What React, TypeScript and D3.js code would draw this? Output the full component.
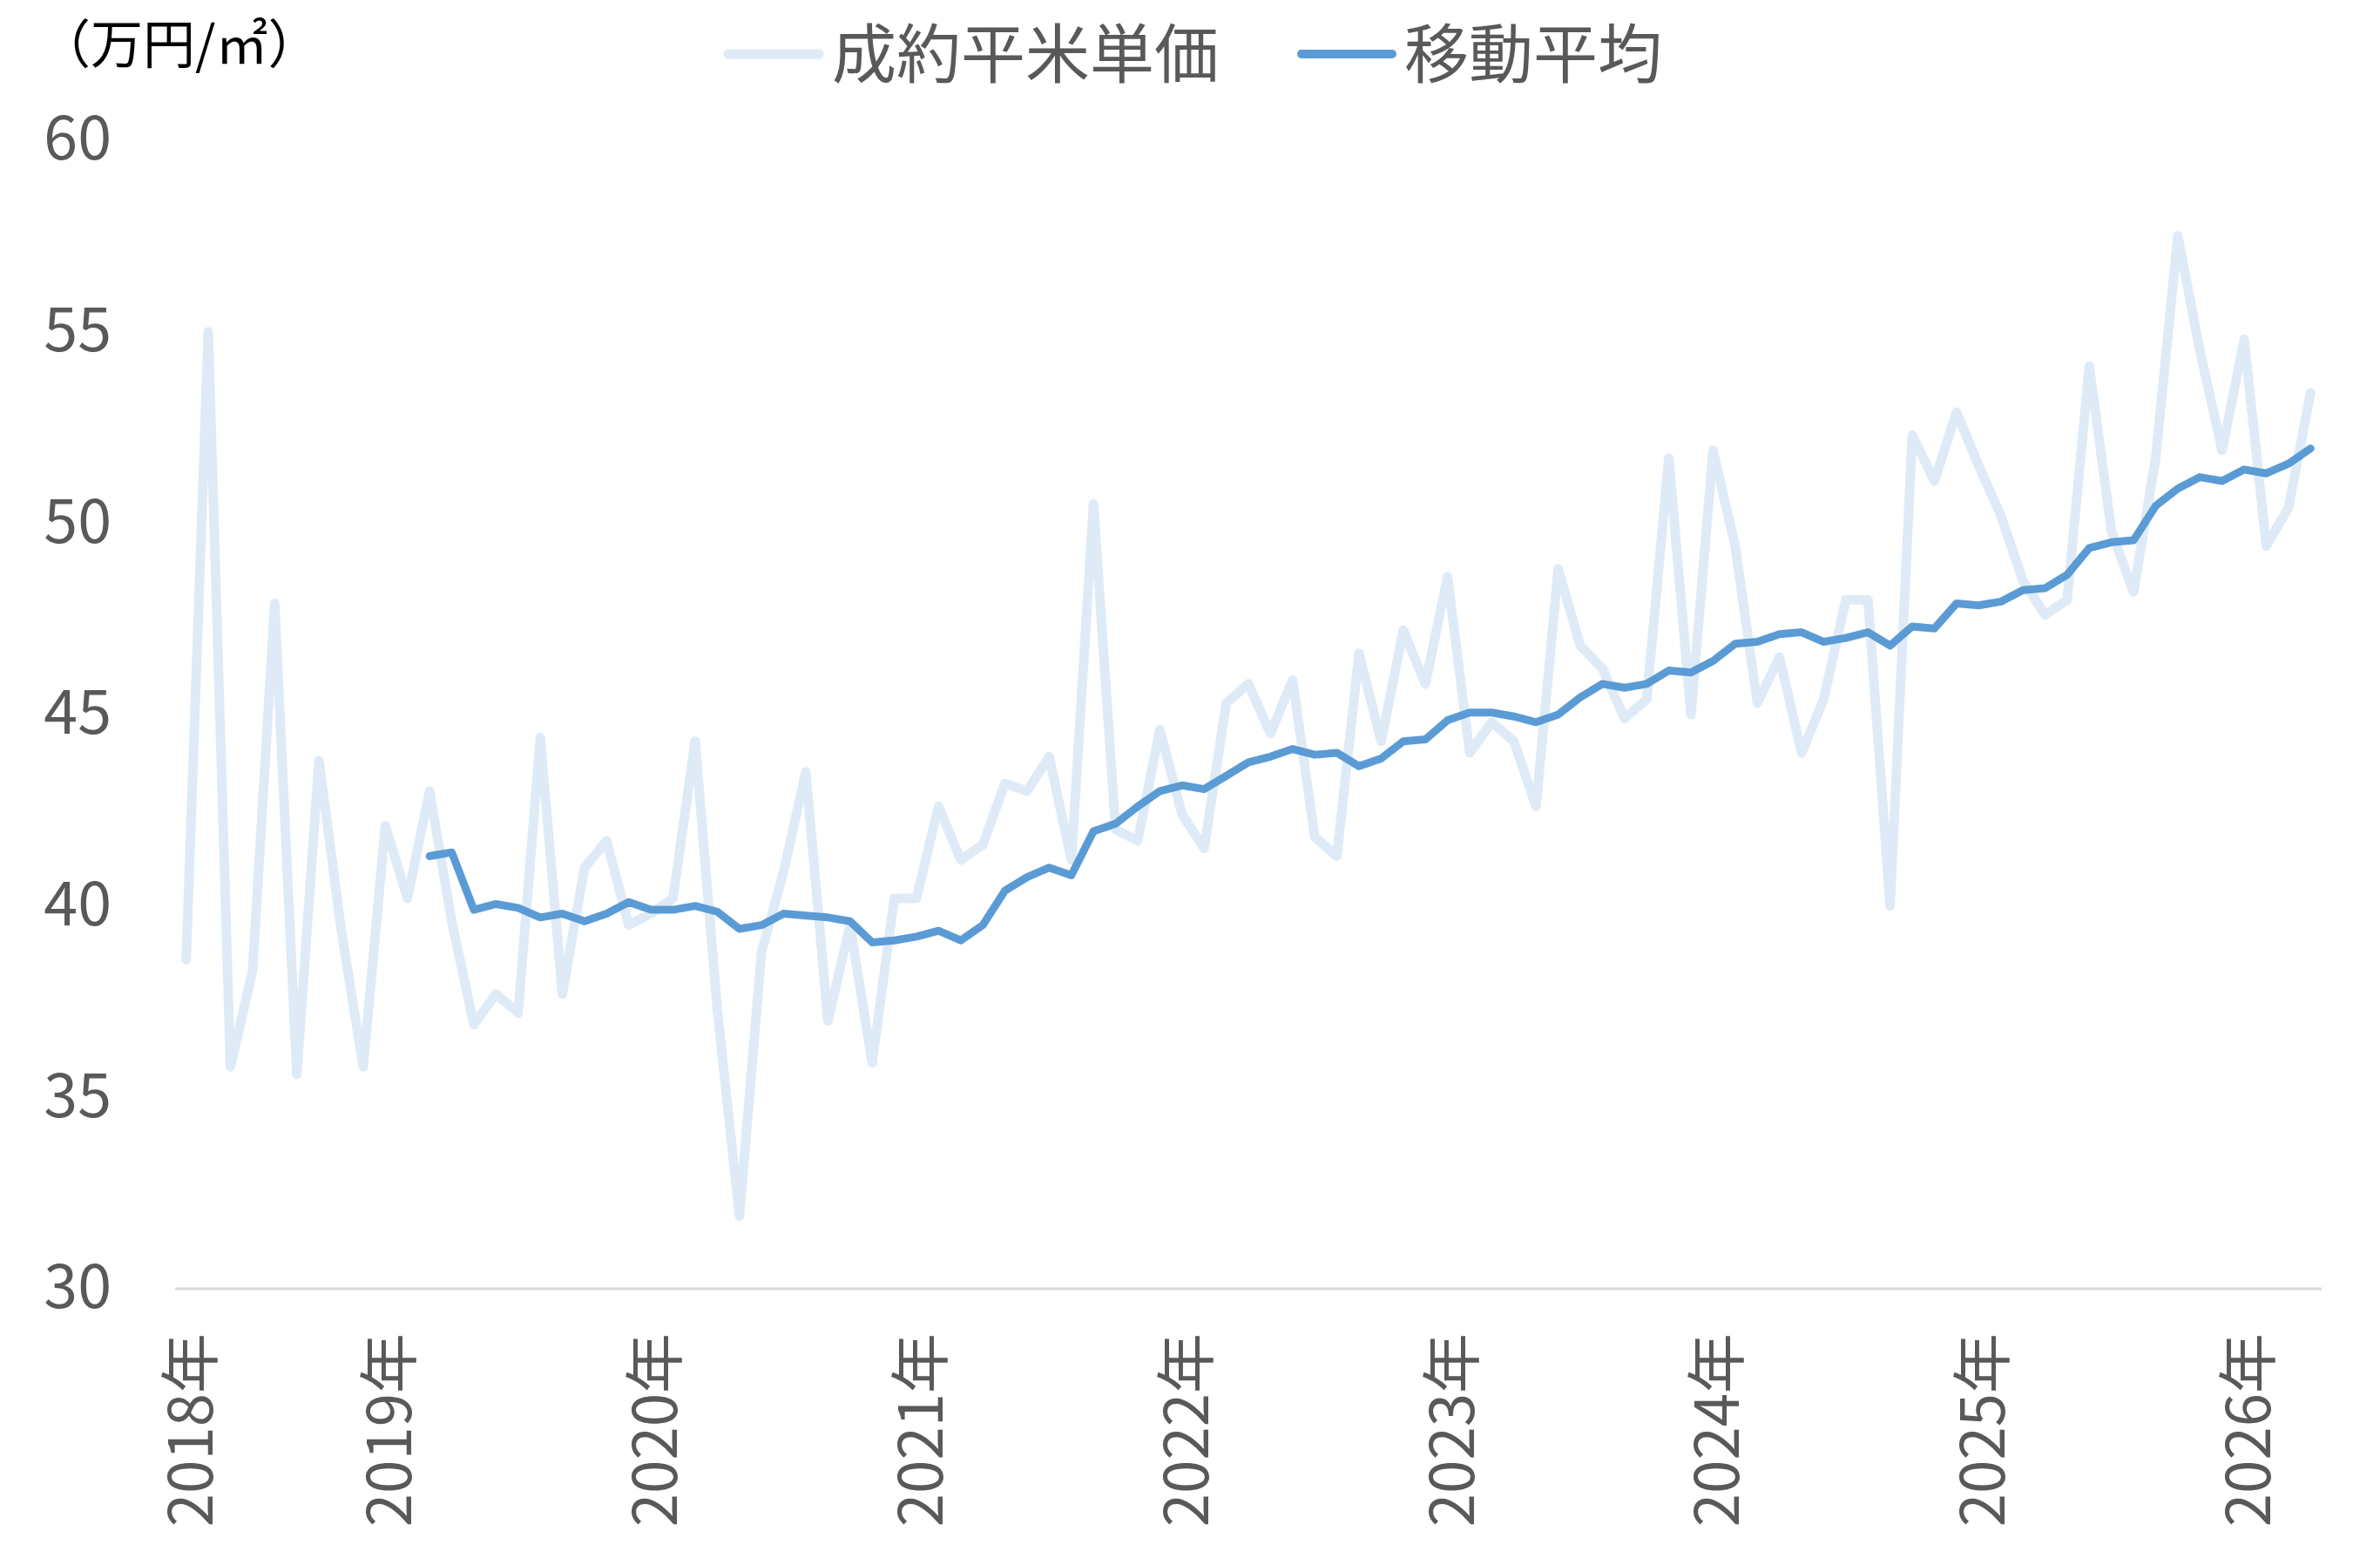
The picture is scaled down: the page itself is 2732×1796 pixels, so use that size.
import React from 'react';
import * as d3 from 'd3';

// 成約平米単価 (monthly, 2018-04 .. 2026-04)
const months: Date[] = d3.timeMonth.range(new Date(2018, 3, 1), new Date(2026, 4, 1));

const priceValues: number[] = [
    38.6, 55.0, 35.8, 38.3, 47.9, 35.6, 43.8, 39.4, 35.8, 42.1, 40.2, 43.0,
    39.6, 36.9, 37.7, 37.2, 44.4, 37.7, 41.0, 41.7, 39.5, 39.8, 40.2, 44.3,
    37.3, 31.9, 38.8, 40.9, 43.5, 37.0, 39.5, 35.9, 40.2, 40.2, 42.6, 41.2,
    41.6, 43.2, 43.0, 43.9, 41.2, 50.5, 42.0, 41.7, 44.6, 42.4, 41.5, 45.3,
    45.8, 44.5, 45.9, 41.8, 41.3, 46.6, 44.3, 47.2, 45.8, 48.6, 44.0, 44.8,
    44.3, 42.6, 48.8, 46.8, 46.2, 44.9, 45.4, 51.7, 45.0, 51.9, 49.4, 45.3,
    46.5, 44.0, 45.4, 48.0, 48.0, 40.0, 52.3, 51.1, 52.9, 51.5, 50.2, 48.5,
    47.6, 48.0, 54.1, 49.8, 48.2, 51.7, 57.5, 54.5, 51.9, 54.8, 49.4, 50.4,
    53.4
];

// 移動平均 (12 months), first value at index 11 (2019-03)
const maStart = 11;
const movingAverage: number[] = [
    41.3,
    41.4, 39.9, 40.05, 39.95, 39.7, 39.8, 39.6, 39.8, 40.1, 39.9, 39.9, 40.0,
    39.85, 39.4, 39.5, 39.8, 39.75, 39.7, 39.6, 39.05, 39.1, 39.2, 39.35, 39.1,
    39.5, 40.4, 40.75, 41.0, 40.8, 41.95, 42.15, 42.6, 43.0, 43.15, 43.05, 43.4,
    43.75, 43.9, 44.1, 43.95, 44.0, 43.65, 43.85, 44.3, 44.35, 44.85, 45.05, 45.05,
    44.95, 44.8, 45.0, 45.45, 45.8, 45.7, 45.8, 46.15, 46.1, 46.4, 46.85, 46.9,
    47.1, 47.15, 46.9, 47.0, 47.15, 46.8, 47.3, 47.25, 47.9, 47.85, 47.95, 48.25,
    48.3, 48.65, 49.35, 49.5, 49.55, 50.45, 50.9, 51.2, 51.1, 51.4, 51.3, 51.55,
    51.95
];

const yTicks = [30, 35, 40, 45, 50, 55, 60];
const yearLabels = ['2018年', '2019年', '2020年', '2021年', '2022年', '2023年', '2024年', '2025年', '2026年'];

const W = 2732;
const H = 1796;
const FONT = '"Noto Sans CJK JP", "Noto Sans", sans-serif';
const LIGHT = '#deebf7';
const BLUE = '#5b9bd5';
const GREY_TEXT = '#595959';

const App: React.FC = () => {
    const x = d3.scalePoint<number>()
        .domain(d3.range(months.length))
        .range([201, 2665])
        .padding(0.5);

    const y = d3.scaleLinear().domain([30, 60]).range([1479, 161]);

    const priceLine = d3.line<number>()
        .x((_, i) => x(i) as number)
        .y(d => y(d));

    const maLine = d3.line<number>()
        .x((_, i) => x(i + maStart) as number)
        .y(d => y(d));

    // first month of each year gets the year label
    const yearTicks = yearLabels.map(label => {
        const yr = parseInt(label, 10);
        const idx = months.findIndex(m => m.getFullYear() === yr);
        return { label, idx };
    });

    return (
        <div style={{ position: 'absolute', left: 0, top: 0, width: W, height: H, background: '#fff' }}>
            <svg width={W} height={H} style={{ display: 'block', fontFamily: FONT }}>
                <rect width={W} height={H} fill="#fff" />

                {/* unit */}
                <text x={44} y={73} fontSize={60} fill="#000">（万円/㎡）</text>

                {/* legend */}
                <g>
                    <line x1={836} x2={940} y1={62} y2={62} stroke={LIGHT} strokeWidth={11} strokeLinecap="round" />
                    <text x={955} y={89} fontSize={74} fill={GREY_TEXT}>成約平米単価</text>
                    <line x1={1494} x2={1598} y1={62} y2={62} stroke={BLUE} strokeWidth={10} strokeLinecap="round" />
                    <text x={1612} y={89} fontSize={74} fill={GREY_TEXT}>移動平均</text>
                </g>

                {/* y axis labels */}
                {yTicks.map(t => (
                    <text key={t} x={128} y={y(t)} dy="0.32em" textAnchor="end" fontSize={70} fill={GREY_TEXT}>
                        {t}
                    </text>
                ))}

                {/* x axis */}
                <line x1={201} x2={2665} y1={y(30)} y2={y(30)} stroke="#d9d9d9" strokeWidth={3} />
                {yearTicks.map(({ label, idx }) => {
                    const px = (x(idx) as number) + 30;
                    return (
                        <text
                            key={label}
                            transform={`translate(${px},1530) rotate(-90)`}
                            textAnchor="end"
                            fontSize={69}
                            fill={GREY_TEXT}
                        >
                            {label}
                        </text>
                    );
                })}

                {/* series */}
                <path
                    d={priceLine(priceValues) || ''}
                    fill="none"
                    stroke={LIGHT}
                    strokeWidth={11}
                    strokeLinejoin="round"
                    strokeLinecap="round"
                />
                <path
                    d={maLine(movingAverage) || ''}
                    fill="none"
                    stroke={BLUE}
                    strokeWidth={9}
                    strokeLinejoin="round"
                    strokeLinecap="round"
                />
            </svg>
        </div>
    );
};

export default App;
